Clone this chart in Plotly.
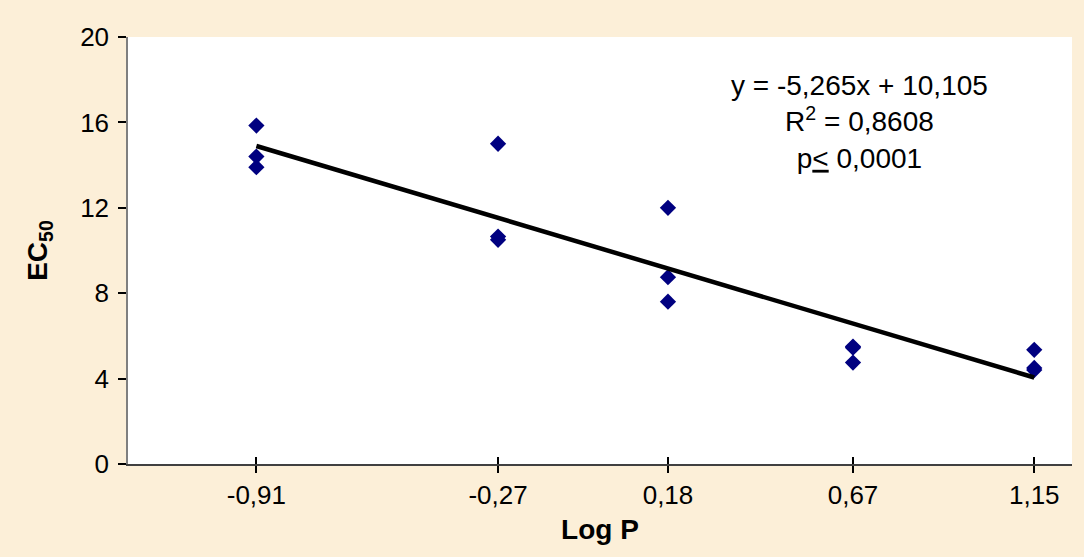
import plotly.graph_objects as go

# Lipophilicity levels (x) and their axis labels
log_p_levels = [-0.91, -0.27, 0.18, 0.67, 1.15]
log_p_labels = ["-0,91", "-0,27", "0,18", "0,67", "1,15"]

# Individual measurements: Log P and EC50
log_p = [-0.91, -0.91, -0.91,
         -0.27, -0.27, -0.27,
         0.18, 0.18, 0.18,
         0.67, 0.67, 0.67,
         1.15, 1.15, 1.15]
ec50 = [15.85, 14.4, 13.9,
        15.0, 10.65, 10.5,
        12.0, 8.75, 7.6,
        5.5, 5.45, 4.75,
        5.35, 4.5, 4.4]

# Linear regression reported on the chart
slope = -5.265
intercept = 10.105
r_squared = "0,8608"
p_text = "0,0001"

y_ticks = [0, 4, 8, 12, 16, 20]

FONT = "Arial, Liberation Sans, sans-serif"
BG = "#FCEFD8"

x_fit = [min(log_p), max(log_p)]
y_fit = [slope * x + intercept for x in x_fit]

fig = go.Figure()
fig.add_trace(go.Scatter(
    x=log_p, y=ec50, mode="markers",
    marker=dict(symbol="diamond", size=12.5, color="#000080",
                line=dict(width=0)),
    showlegend=False, hoverinfo="x+y",
))
fig.add_trace(go.Scatter(
    x=x_fit, y=y_fit, mode="lines",
    line=dict(color="black", width=4.5),
    showlegend=False, hoverinfo="skip",
))
# invisible trace carrying the overlay axis used for the inner half of the cross ticks
fig.add_trace(go.Scatter(x=[None], y=[None], xaxis="x2", mode="markers",
                         showlegend=False, hoverinfo="skip"))

eq = f"y = {slope:.3f}x + {intercept:.3f}".replace(".", ",")

fig.add_annotation(
    xref="paper", yref="paper", x=0.775, y=0.80,
    xanchor="center", yanchor="middle", showarrow=False, align="center",
    text=f"{eq}<br>R<sup>2</sup> = {r_squared}<br>p<u>&lt;</u> {p_text}",
    font=dict(family=FONT, size=28, color="black"),
)

fig.update_layout(
    width=1084, height=557,
    margin=dict(l=128, r=12, t=37, b=93),
    paper_bgcolor=BG, plot_bgcolor="white",
    font=dict(family=FONT, color="black"),
    xaxis=dict(
        range=[-1.25, 1.25], tickmode="array",
        tickvals=log_p_levels, ticktext=log_p_labels,
        ticks="outside", ticklen=7, tickwidth=2, tickcolor="black",
        showline=True, linecolor="#404040", linewidth=2,
        showgrid=False, zeroline=False,
        tickfont=dict(size=26, family=FONT),
        title=dict(text="<b>Log P</b>", font=dict(size=28, family=FONT), standoff=10),
    ),
    xaxis2=dict(
        overlaying="x", matches="x", anchor="y",
        tickmode="array", tickvals=log_p_levels,
        ticks="inside", ticklen=7, tickwidth=2, tickcolor="black",
        showticklabels=False, showline=False, showgrid=False, zeroline=False,
        side="bottom",
    ),
    yaxis=dict(
        range=[0, 20], tickmode="array", tickvals=y_ticks,
        ticks="outside", ticklen=8, tickwidth=1.5, tickcolor="black",
        showline=True, linecolor="#7f7f7f", linewidth=1.5,
        showgrid=False, zeroline=False,
        tickfont=dict(size=26, family=FONT),
        ticklabelstandoff=4,
        title=dict(text="<b>EC<sub>50</sub></b>", font=dict(size=28, family=FONT), standoff=24),
    ),
)

fig.write_html("out.html")
